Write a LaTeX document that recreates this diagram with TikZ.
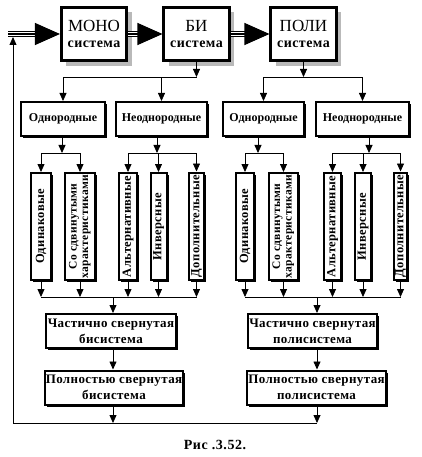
\documentclass[tikz,border=0pt]{standalone}
\usepackage{fontspec}
\setmainfont{Liberation Serif}
\usepackage{graphicx}
\usetikzlibrary{calc,arrows.meta,shadows}

\tikzset{
  sysbox/.style={draw, line width=2.6pt, fill=white, minimum width=65.5pt,
    minimum height=53.5pt, align=center, inner sep=0pt,
    font=\fontsize{17}{17}\selectfont,
    drop shadow={shadow xshift=5pt, shadow yshift=-5pt, fill=gray!55, opacity=1}},
  kindbox/.style={draw, line width=2pt, fill=white, minimum height=34pt,
    align=center, inner sep=1pt, font=\bfseries\fontsize{12}{16}\selectfont,
    drop shadow={shadow xshift=2pt, shadow yshift=-2pt, fill=black, opacity=1}},
  foldbox/.style={kindbox, font=\bfseries\fontsize{13}{16}\selectfont\addfontfeature{LetterSpace=3}},
  vbox/.style={kindbox, minimum height=107pt,
    font=\bfseries\fontsize{12.5}{12.5}\selectfont\addfontfeature{LetterSpace=3}},
  arr/.style={line width=0.8pt, -{Triangle[length=8pt,width=7pt]}},
  triple/.style={line width=1.1pt, double distance=3.8pt, shorten >=23pt},
  bigtip/.style={line width=1.1pt, -{Triangle[length=25pt,width=22pt]}}
}

\newcommand{\syslabel}{\bfseries\fontsize{14}{14}\selectfont\addfontfeature{LetterSpace=3}}
\newcommand{\shiftlabel}{\rotatebox{90}{\bfseries\fontsize{11.5}{11.5}\selectfont
  \begin{tabular}{@{}c@{}}Со сдвинутыми\\характеристиками\end{tabular}}}

\begin{document}
\begin{tikzpicture}[x=1pt,y=1pt]
  \useasboundingbox (0,0) rectangle (421,-457);

  % Systems
  \node[sysbox] (mono) at (94,-34)    {МОНО\\[-1pt]{\syslabel система}};
  \node[sysbox] (bi)   at (196.5,-34) {БИ\\[-1pt]{\syslabel система}};
  \node[sysbox] (poli) at (303.5,-34) {ПОЛИ\\[-1pt]{\syslabel система}};

  % Input and feedback points
  \coordinate (start) at (8,-34);
  \coordinate (feed) at (13,-37);
  \coordinate (back) at (13,-423);

  % Big arrows
  \foreach \a/\b in {start/mono, mono/bi, bi/poli} {
    \draw[triple] (\a) -- (\b.west);
    \draw[bigtip] (\a) -- (\b.west);
  }

  % Homogeneous / heterogeneous
  \node[kindbox, minimum width=84pt] (odn1)   at (63,-119)    {Однородные};
  \node[kindbox, minimum width=91pt] (neodn1) at (161.5,-119) {Неоднородные};
  \node[kindbox, minimum width=81pt] (odn2)   at (263.5,-119) {Однородные};
  \node[kindbox, minimum width=93pt] (neodn2) at (362.5,-119) {Неоднородные};

  \coordinate (bisplit) at (196.5,-77);
  \coordinate (polisplit) at (303.5,-77);
  \draw[arr] (bi) -- (bisplit);
  \draw[arr] (bisplit) -| (odn1.north);
  \draw[arr] (bisplit) -| (neodn1.north);
  \draw[arr] (poli) -- (polisplit);
  \draw[arr] (polisplit) -| (odn2.north);
  \draw[arr] (polisplit) -| (neodn2.north);

  % Kinds (vertical boxes)
  \node[vbox, minimum width=20pt] (od1) at (41,-226.5)    {\rotatebox{90}{Одинаковые}};
  \node[vbox, minimum width=30pt] (sd1) at (80,-226.5)    {\shiftlabel};
  \node[vbox, minimum width=18pt] (al1) at (128,-226.5)   {\rotatebox{90}{Альтернативные}};
  \node[vbox, minimum width=16pt] (in1) at (158.5,-226.5) {\rotatebox{90}{Инверсные}};
  \node[vbox, minimum width=15pt] (dp1) at (196.5,-226)   {\rotatebox{90}{Дополнительные}};

  \node[vbox, minimum width=18pt] (od2) at (245,-226.5)   {\rotatebox{90}{Одинаковые}};
  \node[vbox, minimum width=29pt] (sd2) at (283.5,-226.5) {\shiftlabel};
  \node[vbox, minimum width=17pt] (al2) at (332.5,-226.5) {\rotatebox{90}{Альтернативные}};
  \node[vbox, minimum width=16pt] (in2) at (363,-226.5)   {\rotatebox{90}{Инверсные}};
  \node[vbox, minimum width=13pt] (dp2) at (400.5,-226)   {\rotatebox{90}{Дополнительные}};

  \coordinate (s1) at (62,-153);
  \coordinate (s2) at (157,-153);
  \coordinate (s3) at (258,-153);
  \coordinate (s4) at (369,-153);
  \draw[arr] (s1 |- odn1.south) -- (s1);
  \draw[arr] (s2 |- neodn1.south) -- (s2);
  \draw[arr] (s3 |- odn2.south) -- (s3);
  \draw[arr] (s4 |- neodn2.south) -- (s4);
  \foreach \s/\n in {s1/od1, s1/sd1, s2/al1, s2/in1, s2/dp1,
                     s3/od2, s3/sd2, s4/al2, s4/in2, s4/dp2}
    \draw[arr] (\s) -| (\n.north);

  % Joining lines
  \coordinate (j1) at (113,-297);
  \coordinate (j2) at (317,-297);
  \draw[line width=0.8pt] (od1.south |- j1) -- (dp1.south |- j1);
  \draw[line width=0.8pt] (od2.south |- j2) -- (dp2.south |- j2);
  \foreach \n/\j in {od1/j1, sd1/j1, al1/j1, in1/j1, dp1/j1,
                     od2/j2, sd2/j2, al2/j2, in2/j2, dp2/j2}
    \draw[arr] (\n.south) -- (\n.south |- \j);

  % Folded systems
  \node[foldbox, minimum width=130pt] (chast1) at (111,-331)     {Частично свернутая\\бисистема};
  \node[foldbox, minimum width=136pt] (poln1)  at (114,-387.5)   {Полностью свернутая\\бисистема};
  \node[foldbox, minimum width=127pt] (chast2) at (312.5,-331)   {Частично свернутая\\полисистема};
  \node[foldbox, minimum width=135pt] (poln2)  at (316.5,-387.5) {Полностью свернутая\\полисистема};

  \foreach \j/\c/\p in {j1/chast1/poln1, j2/chast2/poln2} {
    \draw[arr] (\j) -- (\j |- \c.north);
    \draw[arr] (\j |- \c.south) -- (\j |- \p.north);
    \draw[arr] (\j |- \p.south) -- (\j |- back);
  }

  % Feedback
  \draw[arr] (j2 |- back) -- (back) -- (feed);

  % Caption
  \node[font=\bfseries\fontsize{14}{16}\selectfont\addfontfeature{LetterSpace=4}] (cap) at (215,-445) {Рис .3.52.};
\end{tikzpicture}
\end{document}
